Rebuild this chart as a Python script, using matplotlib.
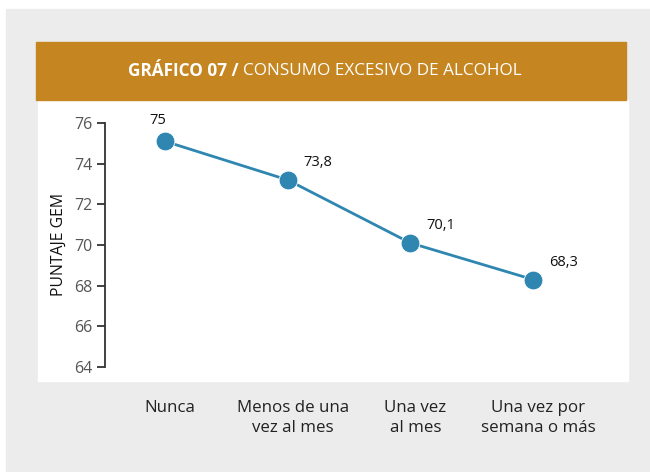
import matplotlib
matplotlib.use('Agg')
import matplotlib.pyplot as plt
import matplotlib.transforms as mtransforms
from matplotlib.patches import Rectangle

# datos del grafico
categorias = ['Nunca', 'Menos de una\nvez al mes', 'Una vez\nal mes', 'Una vez por\nsemana o más']
puntaje = [75.1, 73.2, 70.1, 68.3]
etiquetas = ['75', '73,8', '70,1', '68,3']
ticks_y = [64, 66, 68, 70, 72, 74, 76]

W, H = 650, 472
plt.rcParams['font.family'] = ['Open Sans', 'DejaVu Sans']

fig = plt.figure(figsize=(W / 100, H / 100), dpi=100)
fig.patch.set_facecolor('white')


def px_rect(x0, y0, x1, y1, color):
    # rectangulo en pixeles (origen arriba a la izquierda)
    fig.patches.append(Rectangle((x0 / W, 1 - y1 / H), (x1 - x0) / W, (y1 - y0) / H,
                                 transform=fig.transFigure, color=color, zorder=-5))


px_rect(6, 9, 650, 472, '#ececec')
px_rect(38, 100, 628, 381, 'white')
px_rect(36, 42, 626, 100, '#c58520')

# titulo en dos partes (negrita + normal), centrado
ty = 1 - 71 / H
t1 = fig.text(0.5, ty, 'GRÁFICO 07 / ', color='white', fontsize=12.3,
              fontweight='bold', ha='right', va='center')
t2 = fig.text(0.5, ty, 'CONSUMO EXCESIVO DE ALCOHOL', color='white',
              fontsize=12.3, ha='left', va='center')
fig.canvas.draw()
r = fig.canvas.get_renderer()
w1 = t1.get_window_extent(r).width
w2 = t2.get_window_extent(r).width
start = (W - (w1 + w2)) / 2
t1.set_position(((start + w1) / W, ty))
t2.set_position(((start + w1) / W, ty))

# ejes
x_left, x_unit, x0_px = 105, 122.7, 165
xmin = (x_left - x0_px) / x_unit
xmax = 3.5
ax = fig.add_axes([x_left / W, (H - 367) / H, (xmax - xmin) * x_unit / W, 244 / H])
ax.patch.set_alpha(0)
ax.set_xlim(xmin, xmax)
ax.set_ylim(64, 76)

ax.plot(range(len(puntaje)), puntaje, color='#2e86b1', lw=2, marker='o',
        markersize=13.5, markerfacecolor='#2e86b1', markeredgecolor='white',
        markeredgewidth=0.6, zorder=3, clip_on=False)

for i, (v, lab) in enumerate(zip(puntaje, etiquetas)):
    off = (-7, 21) if i == 0 else (30, 17)
    ax.annotate(lab, (i, v), xytext=off, textcoords='offset pixels', ha='center',
                va='center', fontsize=10.5, color='#111111')

for s in ['top', 'right', 'bottom']:
    ax.spines[s].set_visible(False)
ax.spines['left'].set_color('#333333')
ax.spines['left'].set_linewidth(1.3)

ax.set_yticks(ticks_y)
ax.set_yticklabels([str(t) for t in ticks_y])
ax.tick_params(axis='y', direction='out', length=6, width=1.3, color='#333333',
               labelcolor='#555555', labelsize=11.5, pad=3)

ax.set_xticks(range(len(categorias)))
ax.set_xticklabels(categorias, fontsize=12.2, color='#222222', linespacing=1.3,
                   va='top')
ax.tick_params(axis='x', length=0, pad=24)
shift = mtransforms.ScaledTranslation(5 / 100, 0, fig.dpi_scale_trans)
for lbl in ax.get_xticklabels():
    lbl.set_transform(lbl.get_transform() + shift)

ax.set_ylabel('PUNTAJE GEM', fontsize=11.3, color='#111111', labelpad=5)

fig.savefig('out.png', dpi=100, facecolor=fig.get_facecolor())
